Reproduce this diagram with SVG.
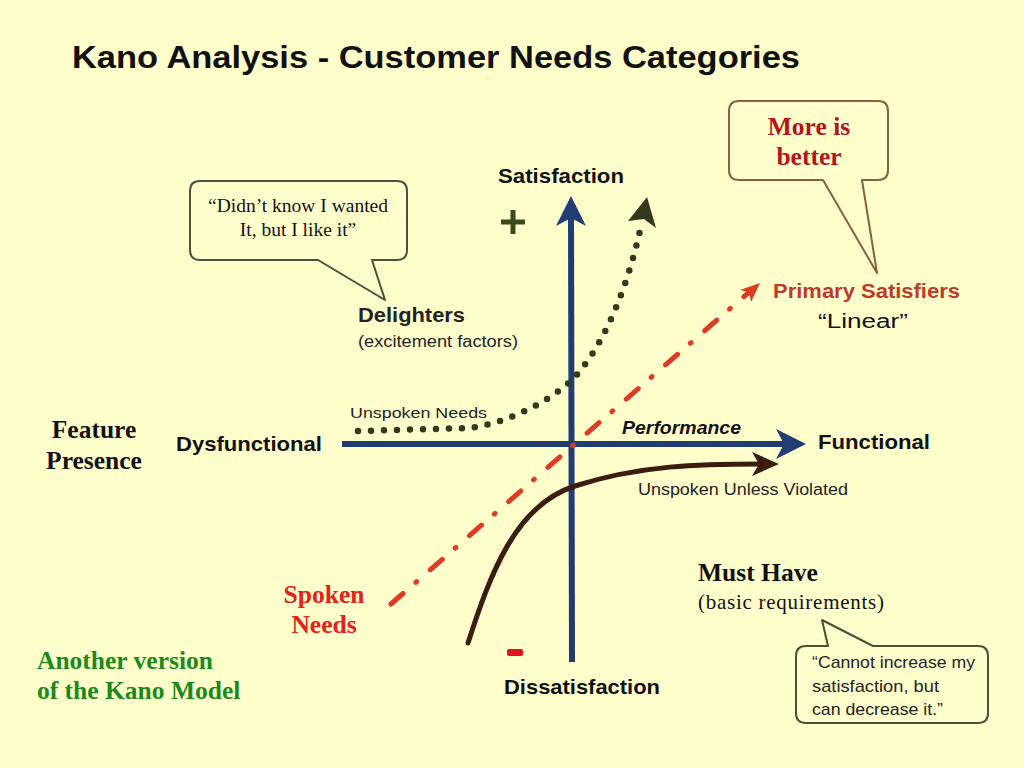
<svg xmlns="http://www.w3.org/2000/svg" width="1024" height="768" viewBox="0 0 1024 768">
<style>
.sans{font-family:"Liberation Sans",Arial,sans-serif}
.serif{font-family:"Liberation Serif","Times New Roman",serif}
.b{font-weight:bold}
.bubble{fill:#ffffcc;stroke:#4d4d3a;stroke-width:2;stroke-linejoin:round}
.axis{stroke:#223d74;stroke-width:6;fill:none}
</style>
<rect width="1024" height="768" fill="#ffffcc"/>
<text class="sans b" x="72" y="68" font-size="31" textLength="728" lengthAdjust="spacingAndGlyphs" fill="#111">Kano Analysis - Customer Needs Categories</text>

<g id="connectors">
  <line class="axis" x1="572" y1="662" x2="571" y2="215"/>
  <path d="M571,196 L586,226 L571,218 L556,226 Z" fill="#223d74"/>
  <line class="axis" x1="342" y1="444" x2="790" y2="444"/>
  <path d="M806,444 L776,429 L784,444 L776,459 Z" fill="#223d74"/>
  <path d="M358,431 L470,428 C500,424 540,408 570,382 C597,356 625,300 641,226" fill="none" stroke="#333a1c" stroke-width="6.5" stroke-linecap="round" stroke-dasharray="0 13"/>
  <path d="M647,197 L656,228 L644,219 L628,221 Z" fill="#333a1c"/>
  <line x1="391" y1="604" x2="748" y2="293" stroke="#e03a22" stroke-width="5" stroke-linecap="round" stroke-dasharray="16 17 1 18"/>
  <path d="M760,283 L740,290 L749,292 L751,302 Z" fill="#e03a22"/>
  <path d="M468,643 C490,575 515,505 575,486 C640,465 700,464 762,464" fill="none" stroke="#3b1c0e" stroke-width="5" stroke-linecap="round"/>
  <path d="M779,464 L752,452 L759,464 L752,476 Z" fill="#3b1c0e"/>
</g>

<g id="axis-labels">
  <text class="sans b" x="498" y="183" font-size="21" textLength="126" lengthAdjust="spacingAndGlyphs" fill="#111">Satisfaction</text>
  <text class="sans b" x="504" y="694" font-size="21" textLength="156" lengthAdjust="spacingAndGlyphs" fill="#111">Dissatisfaction</text>
  <text class="sans b" x="176" y="451" font-size="21" textLength="146" lengthAdjust="spacingAndGlyphs" fill="#111">Dysfunctional</text>
  <text class="sans b" x="818" y="449" font-size="21" textLength="112" lengthAdjust="spacingAndGlyphs" fill="#111">Functional</text>
  <path d="M513,210 V234 M501,222 H525" stroke="#3b4a1c" stroke-width="5"/>
  <rect x="507" y="649" width="16" height="7" rx="2" fill="#e0141e"/>
</g>

<g id="delighters">
  <text class="sans b" x="358" y="322" font-size="20" textLength="107" lengthAdjust="spacingAndGlyphs" fill="#222">Delighters</text>
  <text class="sans" x="358" y="347" font-size="16" textLength="160" lengthAdjust="spacingAndGlyphs" fill="#222">(excitement factors)</text>
  <text class="sans" x="350" y="418" font-size="15" textLength="137" lengthAdjust="spacingAndGlyphs" fill="#222">Unspoken Needs</text>
</g>

<g id="performance">
  <text class="sans b" x="622" y="434" font-size="18" font-style="italic" textLength="119" lengthAdjust="spacingAndGlyphs" fill="#111">Performance</text>
  <text class="sans b" x="773" y="298" font-size="20" textLength="187" lengthAdjust="spacingAndGlyphs" fill="#c0392b">Primary Satisfiers</text>
  <text class="sans" x="818" y="328" font-size="20" textLength="90" lengthAdjust="spacingAndGlyphs" fill="#111">“Linear”</text>
</g>

<g id="must-be">
  <text class="sans" x="638" y="495" font-size="16" textLength="210" lengthAdjust="spacingAndGlyphs" fill="#222">Unspoken Unless Violated</text>
  <text class="serif b" x="698" y="581" font-size="25.5" fill="#111">Must Have</text>
  <text class="serif" x="698" y="609" font-size="21" textLength="186" fill="#111">(basic requirements)</text>
</g>

<g id="bubble-delighters">
  <path class="bubble" d="M200,181 H397 Q407,181 407,191 V250 Q407,260 397,260 H372 L385,300 L318,260 H200 Q190,260 190,250 V191 Q190,181 200,181 Z"/>
  <text class="serif" x="298" y="212" font-size="19.5" text-anchor="middle" fill="#111">“Didn’t know I wanted</text>
  <text class="serif" x="298" y="236" font-size="19.5" text-anchor="middle" fill="#111">It, but I like it”</text>
</g>

<g id="bubble-more">
  <path class="bubble" style="stroke:#8b5e3c" d="M739,101 H878 Q888,101 888,111 V170 Q888,180 878,180 H862 L877,273 L823,180 H739 Q729,180 729,170 V111 Q729,101 739,101 Z"/>
  <text class="serif b" x="809" y="135" font-size="25.5" text-anchor="middle" fill="#b5121b">More is</text>
  <text class="serif b" x="809" y="165" font-size="25.5" text-anchor="middle" fill="#b5121b">better</text>
</g>

<g id="bubble-cannot">
  <path class="bubble" d="M806,646 H828 L822,620 L873,646 H978 Q988,646 988,656 V713 Q988,723 978,723 H806 Q796,723 796,713 V656 Q796,646 806,646 Z"/>
  <text class="sans" x="812" y="668" font-size="17" textLength="163" lengthAdjust="spacingAndGlyphs" fill="#222">“Cannot increase my</text>
  <text class="sans" x="812" y="692" font-size="17" textLength="127" lengthAdjust="spacingAndGlyphs" fill="#222">satisfaction, but</text>
  <text class="sans" x="812" y="715" font-size="17" textLength="131" lengthAdjust="spacingAndGlyphs" fill="#222">can decrease it.”</text>
</g>

<g id="feature-presence">
  <text class="serif b" x="94" y="438" font-size="25.5" text-anchor="middle" fill="#111">Feature</text>
  <text class="serif b" x="94" y="469" font-size="25.5" text-anchor="middle" fill="#111">Presence</text>
</g>

<g id="spoken-needs">
  <text class="serif b" x="324" y="603" font-size="25.5" text-anchor="middle" fill="#e8201a">Spoken</text>
  <text class="serif b" x="324" y="633" font-size="25.5" text-anchor="middle" fill="#e8201a">Needs</text>
</g>

<g id="another-version">
  <text class="serif b" x="37" y="669" font-size="25.5" fill="#1a8a1a">Another version</text>
  <text class="serif b" x="37" y="699" font-size="25.5" fill="#1a8a1a">of the Kano Model</text>
</g>
</svg>
